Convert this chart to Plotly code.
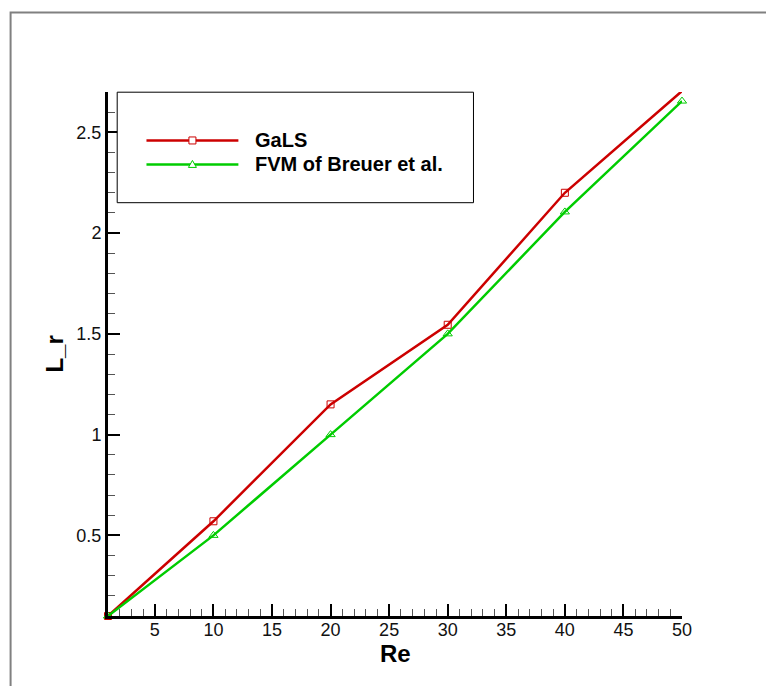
import plotly.graph_objects as go

re_vals = [1, 10, 20, 30, 40, 50]
gals_lr = [0.10, 0.57, 1.15, 1.545, 2.20, 2.705]
fvm_lr = [0.10, 0.50, 1.00, 1.50, 2.105, 2.655]
series_names = ["GaLS", "FVM of Breuer et al."]
series_colors = ["#CC0000", "#00CC00"]
x_title = "Re"
y_title = "L_r"

W, H = 766, 686
L, R, T, B = 107.5, 682, 91.5, 616
pw, ph = R - L, B - T

def px(xp):
    return (xp - L) / pw

def py(yp):
    return (B - yp) / ph

fig = go.Figure()
fig.add_trace(go.Scatter(x=re_vals, y=gals_lr, mode="lines+markers", name=series_names[0],
                         line=dict(color=series_colors[0], width=2.5),
                         marker=dict(symbol="square-open", size=7, color=series_colors[0], line=dict(width=1)),
                         cliponaxis=False, showlegend=False))
fig.add_trace(go.Scatter(x=re_vals, y=fvm_lr, mode="lines+markers", name=series_names[1],
                         line=dict(color=series_colors[1], width=2.5),
                         marker=dict(symbol="triangle-up-open", size=8, color=series_colors[1], line=dict(width=1)),
                         cliponaxis=False, showlegend=False))

font = "Liberation Sans, Arial, Helvetica, sans-serif"
axis_common = dict(showgrid=False, zeroline=False, showline=True, linecolor="black", linewidth=3,
                   ticks="inside", ticklen=12, tickwidth=2, tickcolor="black",
                   tickfont=dict(family=font, size=18, color="#111"), mirror=False)

fig.update_xaxes(range=[1, 50], tick0=0, dtick=5, ticklabelstandoff=-5,
                 minor=dict(dtick=1, tick0=0, ticks="inside", ticklen=7, tickwidth=1, tickcolor="#555"),
                 **axis_common)
fig.update_yaxes(range=[0.1, 2.7], tick0=0, dtick=0.5,
                 minor=dict(dtick=0.1, tick0=0, ticks="inside", ticklen=7, tickwidth=1, tickcolor="#555"),
                 **axis_common)

shapes = []
# outer frame
shapes.append(dict(type="rect", xref="paper", yref="paper", x0=px(10), x1=px(790), y0=py(710), y1=py(12),
                   line=dict(color="#808080", width=2), layer="below"))
# legend box
shapes.append(dict(type="rect", xref="paper", yref="paper", x0=px(116.7), x1=px(473.3), y0=py(202.3), y1=py(91.7),
                   line=dict(color="black", width=1), fillcolor="white", layer="above"))
leg_y = [140, 164]
for i, yy in enumerate(leg_y):
    shapes.append(dict(type="line", xref="paper", yref="paper", x0=px(146), x1=px(238), y0=py(yy), y1=py(yy),
                       line=dict(color=series_colors[i], width=2.5), layer="above"))
# legend markers
shapes.append(dict(type="rect", xref="paper", yref="paper", xsizemode="pixel", ysizemode="pixel",
                   xanchor=px(192), yanchor=py(140), x0=-3.5, x1=3.5, y0=-3.5, y1=3.5,
                   line=dict(color=series_colors[0], width=1), fillcolor="white", layer="above"))
shapes.append(dict(type="path", xref="paper", yref="paper", xsizemode="pixel", ysizemode="pixel",
                   xanchor=px(192), yanchor=py(164), path="M -4,-3 L 4,-3 L 0,4 Z",
                   line=dict(color=series_colors[1], width=1), fillcolor="white", layer="above"))

annotations = []
for i, yy in enumerate(leg_y):
    annotations.append(dict(text="<b>%s</b>" % series_names[i], xref="paper", yref="paper", x=px(253), y=py(yy),
                            xanchor="left", yanchor="middle", showarrow=False,
                            font=dict(family=font, size=20, color="black")))
annotations.append(dict(text="<b>%s</b>" % x_title, xref="paper", yref="paper", x=0.5, y=py(654),
                        xanchor="center", yanchor="middle", showarrow=False, borderpad=0,
                        font=dict(family=font, size=24, color="black")))
annotations.append(dict(text="<b>%s</b>" % y_title, xref="paper", yref="paper", x=px(53), y=0.5,
                        xanchor="center", yanchor="middle", showarrow=False, textangle=-90,
                        font=dict(family=font, size=24, color="black")))

fig.update_layout(width=W, height=H, margin=dict(l=L, r=W - R, t=T, b=H - B, pad=0),
                  paper_bgcolor="white", plot_bgcolor="white", showlegend=False,
                  shapes=shapes, annotations=annotations)

fig.write_html("out.html", config={"displayModeBar": False},
               post_script="document.body.style.margin='0';document.body.style.overflow='hidden';")
